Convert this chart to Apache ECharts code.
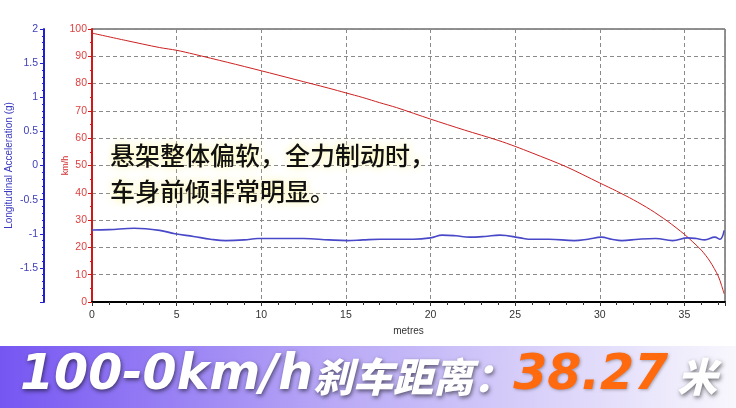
<!DOCTYPE html>
<html><head><meta charset="utf-8">
<script src="https://cdn.jsdelivr.net/npm/echarts@6/dist/echarts.min.js"></script>
<style>html,body{margin:0;padding:0;background:#fff}#c{width:736px;height:408px}</style>
</head><body><div id="c"></div>
<script>
const xTicks = [0, 5, 10, 15, 20, 25, 30, 35];
const speedDist = [0,2,4,5,6,8,10,12,14,15,16,17,18,20,22,24,25,26,28,30,31,32,33,34,35,35.5,36,36.5,37,37.2,37.35];
const speedVals = [98.5,95.8,93.2,92.2,90.8,87.8,84.7,81.5,78.3,76.6,74.9,73.0,71.2,67.0,63.0,59.2,57.0,54.6,49.6,43.6,40.6,37.4,33.8,29.6,24.8,22.0,19.0,15.0,9.5,6.0,3.0];
const accDist = [0,1,2.5,4,4.9,6,7,7.9,9,9.8,11,12.5,14,15.1,16,17,19,20,20.7,21.5,22.3,23.2,24.1,25.3,25.8,27,28.5,29.3,30.1,30.7,31.3,32.3,33.3,34.3,35.2,35.7,36.2,36.8,37.1,37.35];
const accVals = [-0.945,-0.94,-0.92,-0.95,-1.0,-1.04,-1.08,-1.10,-1.09,-1.07,-1.07,-1.07,-1.09,-1.10,-1.09,-1.08,-1.08,-1.06,-1.02,-1.03,-1.05,-1.04,-1.02,-1.06,-1.08,-1.08,-1.10,-1.08,-1.05,-1.08,-1.10,-1.08,-1.07,-1.10,-1.06,-1.07,-1.09,-1.05,-1.08,-0.95];
const note = ['悬架整体偏软，全力制动时，', '车身前倾非常明显。'];
const bannerParts = ['100-0km/h', '刹车距离：', '38.27', '米'];

const chart = echarts.init(document.getElementById('c'), null, {renderer: 'canvas'});
const gridStyle = {show: true, lineStyle: {color: '#8a8a8a', type: [4, 3], width: 1}};
const shadow = {textShadowColor: 'rgba(0,0,0,0.55)', textShadowBlur: 4, textShadowOffsetX: 1, textShadowOffsetY: 2};
chart.setOption({
  animation: false,
  grid: {left: 92, right: 11, top: 29, bottom: 106, containLabel: false, outerBoundsMode: 'none',
    show: true, borderColor: '#222', borderWidth: 1, backgroundColor: 'transparent'},
  xAxis: {
    type: 'value', min: 0, max: 37.4, interval: 5,
    name: 'metres', nameLocation: 'middle', nameGap: 22,
    nameTextStyle: {color: '#333', fontSize: 10, fontFamily: 'Liberation Sans'},
    axisLine: {show: true, onZero: false, lineStyle: {color: '#000', width: 2}},
    axisTick: {show: true, length: 4, lineStyle: {color: '#333'}},
    minorTick: {show: true, splitNumber: 5, length: 3, lineStyle: {color: '#333'}},
    axisLabel: {color: '#333', fontSize: 10.5, fontFamily: 'Liberation Sans', margin: 8,
      formatter: v => xTicks.includes(v) ? String(v) : ''},
    splitLine: gridStyle
  },
  yAxis: [{
    type: 'value', min: 0, max: 100, interval: 10, position: 'left',
    name: 'km/h', nameLocation: 'middle', nameGap: 22, nameRotate: 90, nameMoveOverlap: false,
    nameTextStyle: {color: '#d03030', fontSize: 9, fontFamily: 'Liberation Sans'},
    axisLine: {show: true, lineStyle: {color: '#d01818', width: 2}},
    axisTick: {show: true, length: 4, lineStyle: {color: '#d01818'}},
    minorTick: {show: true, splitNumber: 2, length: 2, lineStyle: {color: '#d01818'}},
    axisLabel: {color: '#e04040', fontSize: 10.5, fontFamily: 'Liberation Sans', margin: 5},
    splitLine: gridStyle
  }, {
    type: 'value', min: -2, max: 2, interval: 0.5, position: 'left', offset: 48,
    name: 'Longitudinal Acceleration (g)', nameLocation: 'middle', nameGap: 30, nameRotate: 90, nameMoveOverlap: false,
    nameTextStyle: {color: '#3a3ac0', fontSize: 10, fontFamily: 'Liberation Sans'},
    axisLine: {show: true, lineStyle: {color: '#2020d0', width: 2}},
    axisTick: {show: true, length: 4, lineStyle: {color: '#2020d0'}},
    minorTick: {show: true, splitNumber: 5, length: 2, lineStyle: {color: '#2020d0'}},
    axisLabel: {color: '#4040b8', fontSize: 10.5, fontFamily: 'Liberation Sans', margin: 6, showMinLabel: false},
    splitLine: {show: false}
  }],
  series: [{
    type: 'line', yAxisIndex: 0, showSymbol: false, smooth: 0.3,
    lineStyle: {color: '#cc2020', width: 1},
    data: speedDist.map((d, i) => [d, speedVals[i]])
  }, {
    type: 'line', yAxisIndex: 1, showSymbol: false, smooth: 0.4,
    lineStyle: {color: '#4848c8', width: 1.6},
    data: accDist.map((d, i) => [d, accVals[i]])
  }],
  graphic: [
    {type: 'text', left: 110, top: 137, z: 10, style: {
      text: note[0] + '\n' + note[1], fill: '#111', fontSize: 25, fontWeight: 500, lineHeight: 36,
      fontFamily: 'Noto Sans CJK SC', textShadowColor: 'rgba(255,245,150,0.95)', textShadowBlur: 8}},
    {type: 'rect', left: 0, top: 346, z: 5, shape: {width: 736, height: 62}, style: {
      fill: new echarts.graphic.LinearGradient(0, 0, 1, 0, [
        {offset: 0, color: '#7656f2'}, {offset: 0.45, color: '#b8a8f6'}, {offset: 1, color: '#f8f7fd'}])}},
    {type: 'text', left: 20, top: 352, z: 10, style: {
      text: '{a|' + bannerParts[0] + '}{b|' + bannerParts[1] + '}{c|' + bannerParts[2] + '}{b| ' + bannerParts[3] + '}',
      rich: {
        a: Object.assign({fontSize: 49, fontWeight: 'bold', fontStyle: 'italic', fontFamily: 'DejaVu Sans', fill: '#fff'}, shadow),
        b: Object.assign({fontSize: 40, fontWeight: 900, fontStyle: 'italic', fontFamily: 'Noto Sans CJK SC', fill: '#fff'}, shadow),
        c: {fontSize: 49, fontWeight: 'bold', fontStyle: 'italic', fontFamily: 'DejaVu Sans', fill: '#ff6a0e',
            textShadowColor: 'rgba(0,0,0,0.3)', textShadowBlur: 3, textShadowOffsetX: 1, textShadowOffsetY: 1}
      }}}
  ]
});
</script></body></html>
